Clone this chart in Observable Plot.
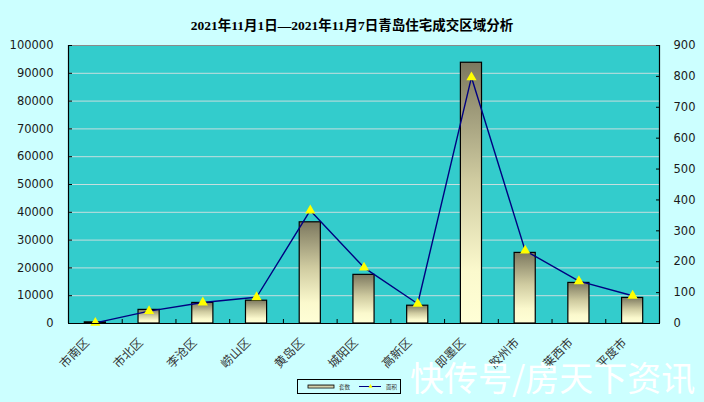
<!DOCTYPE html>
<html><head><meta charset="utf-8">
<script src="https://cdn.jsdelivr.net/npm/d3@7"></script>
<script src="https://cdn.jsdelivr.net/npm/@observablehq/plot@0.6"></script>
<style>
html,body{margin:0;padding:0;background:#CCFFFF;}
#wrap{position:relative;width:704px;height:402px;overflow:hidden;background:#CCFFFF;}
#title{position:absolute;left:0;top:14px;width:704px;text-align:center;line-height:14px;font:bold 13.5px "Liberation Serif","Noto Sans CJK SC",serif;color:#000;}
#chart{position:absolute;left:0;top:30px;}
#legend{position:absolute;left:297px;top:379px;}
#wm{position:absolute;left:410px;top:360px;font-size:34px;line-height:1;font-family:"Noto Sans CJK SC",sans-serif;color:#fff;white-space:nowrap;}
</style></head>
<body><div id="wrap">
<div id="title">2021年11月1日—2021年11月7日青岛住宅成交区域分析</div>
<div id="chart"></div>
<div id="legend"></div>
<div id="wm">快传号/房天下资讯</div>
</div>
<script>
const districts = ["市南区","市北区","李沧区","崂山区","黄岛区","城阳区","高新区","即墨区","胶州市","莱西市","平度市"];
const units = [400, 4900, 7400, 8200, 36400, 17500, 6400, 93800, 25400, 14600, 9200]; // 套数 (left axis)
const areas = [2, 40, 68, 85, 366, 181, 64, 797, 236, 137, 90];                        // 面积 (right axis)
const leftTicks = [0,10000,20000,30000,40000,50000,60000,70000,80000,90000,100000];
const rightTicks = [0,100,200,300,400,500,600,700,800,900];
const seriesNames = ["套数","面积"];

const n = districts.length;
const k = 100000 / 900;
const data = districts.map((name, i) => ({i, name, units: units[i], area: areas[i]}));

const chart = Plot.plot({
  width: 704, height: 345,
  marginLeft: 68, marginRight: 45, marginTop: 15, marginBottom: 52,
  style: {background: "transparent", fontFamily: "DejaVu Sans", fontSize: "11.5px", color: "#1a1a1a", overflow: "visible"},
  x: {domain: [0, n], axis: null},
  y: {domain: [0, 100000], axis: null},
  marks: [
    Plot.frame({fill: "#33CCCC", stroke: null}),
    Plot.ruleY(leftTicks.slice(1, -1), {stroke: "#c6dede", strokeWidth: 1}),
    Plot.rectY(data, {x1: "i", x2: d => d.i + 1, y1: 0, y2: "units", insetLeft: 16.3, insetRight: 16.3,
      fill: "url(#barGrad)", stroke: "#000", strokeWidth: 1.2}),
    Plot.line(data, {x: d => d.i + 0.5, y: d => d.area * k, stroke: "#000080", strokeWidth: 1.4}),
    Plot.dot(data, {x: d => d.i + 0.5, y: d => d.area * k, symbol: "triangle", r: 3.8, fill: "#FFFF00", stroke: "none"}),
    Plot.frame({stroke: "#8a8a8a"}),
    Plot.ruleX([0, n], {stroke: "#000", strokeWidth: 1.2}),
    Plot.ruleY([0], {stroke: "#000", strokeWidth: 1.2}),
    Plot.axisY(leftTicks, {anchor: "left", label: null, tickSize: -4, tickPadding: 19, tickFormat: d => String(d), stroke: "#000"}),
    Plot.axisY(rightTicks.map(v => v * k), {anchor: "right", label: null, tickSize: -4, tickPadding: 18,
      tickFormat: v => String(Math.round(v / k)), stroke: "#000"}),
    Plot.axisX(d3.range(n + 1), {anchor: "bottom", label: null, tickSize: -4, tickFormat: () => "", stroke: "#000"}),
    Plot.axisX(d3.range(n).map(i => i + 0.5), {anchor: "bottom", label: null, tickSize: 0, tickPadding: 17, tickRotate: -45,
      dx: -8, tickFormat: v => districts[Math.floor(v)], fontFamily: "Noto Sans CJK SC", fontSize: 12, fill: "#333"})
  ]
});

const svg = d3.select(chart);
const defs = svg.insert("defs", ":first-child");
const g = defs.append("linearGradient").attr("id", "barGrad").attr("x1", 0).attr("y1", 0).attr("x2", 0).attr("y2", 1);
[[0, "#7c785f"], [0.45, "#cfcba0"], [0.8, "#fbf9cd"], [1, "#ffffd6"]].forEach(([o, c]) =>
  g.append("stop").attr("offset", o).attr("stop-color", c));
document.getElementById("chart").appendChild(chart);

// legend
const lg = d3.select("#legend").append("svg").attr("width", 105).attr("height", 16);
lg.append("rect").attr("x", 0.5).attr("y", 0.5).attr("width", 103).attr("height", 14)
  .attr("fill", "#CCFFFF").attr("stroke", "#000");
const lgGrad = lg.append("defs").append("linearGradient").attr("id", "lgGrad").attr("x1", 0).attr("y1", 0).attr("x2", 0).attr("y2", 1);
lgGrad.append("stop").attr("offset", 0).attr("stop-color", "#a7a383");
lgGrad.append("stop").attr("offset", 1).attr("stop-color", "#ffffd6");
lg.append("rect").attr("x", 11).attr("y", 6).attr("width", 26).attr("height", 3)
  .attr("fill", "url(#lgGrad)").attr("stroke", "#000").attr("stroke-width", 0.8);
lg.append("text").attr("x", 42).attr("y", 9.8).attr("font-size", 5.5).attr("font-family", "Noto Sans CJK SC").attr("fill", "#333").text(seriesNames[0]);
lg.append("line").attr("x1", 62).attr("x2", 84).attr("y1", 7.5).attr("y2", 7.5).attr("stroke", "#000080").attr("stroke-width", 1);
lg.append("path").attr("d", d3.symbol(d3.symbolTriangle, 8)()).attr("transform", "translate(73.5,7.5)").attr("fill", "#FFFF00");
lg.append("text").attr("x", 89).attr("y", 9.8).attr("font-size", 5.5).attr("font-family", "Noto Sans CJK SC").attr("fill", "#333").text(seriesNames[1]);
</script>
</body></html>
